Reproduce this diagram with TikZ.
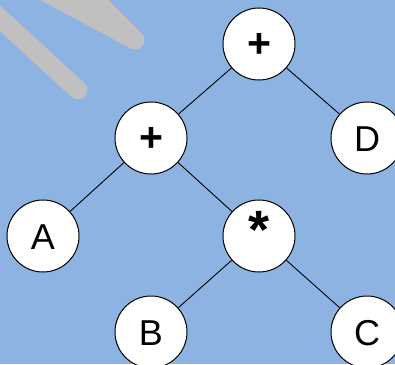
\documentclass[tikz,border=0pt]{standalone}
\usepackage{fontspec}
\setmainfont{Liberation Sans}
\definecolor{bgblue}{RGB}{141,179,226}
\definecolor{scribble}{RGB}{192,192,192}
\tikzset{
  vert/.style={circle, draw=black, fill=white, line width=1pt, minimum size=72pt, inner sep=0pt,
    font=\fontsize{36}{36}\selectfont, text height=26pt, text depth=0pt},
  edge/.style={draw=black, line width=0.9pt},
  stroke/.style={draw=scribble, line width=19pt, line cap=round, line join=round}
}
\begin{document}
\begin{tikzpicture}[x=1pt,y=-1pt]
\useasboundingbox (0,0) rectangle (395,364);
\fill[bgblue] (0,0) rectangle (395,364);
\begin{scope}
\clip (0,0) rectangle (395,364);
\draw[stroke] (-20,0) -- (78,90);
\draw[stroke] (38,-12) -- (135,40) -- (85,-10);
\end{scope}
\node[vert] (r) at (259,44) {\fontsize{41}{41}\selectfont\bfseries +};
\node[vert] (p) at (151,138) {\fontsize{41}{41}\selectfont\bfseries +};
\node[vert] (d) at (367,138) {D};
\node[vert] (a) at (43,236) {A};
\node[vert] (m) at (259,236) {\raisebox{1pt}{\fontsize{54}{54}\selectfont\bfseries *}};
\node[vert] (b) at (151,332) {B};
\node[vert] (c) at (367,332) {C};
\draw[edge] (r) -- (p);
\draw[edge] (r) -- (d);
\draw[edge] (p) -- (a);
\draw[edge] (p) -- (m);
\draw[edge] (m) -- (b);
\draw[edge] (m) -- (c);
\end{tikzpicture}
\end{document}
